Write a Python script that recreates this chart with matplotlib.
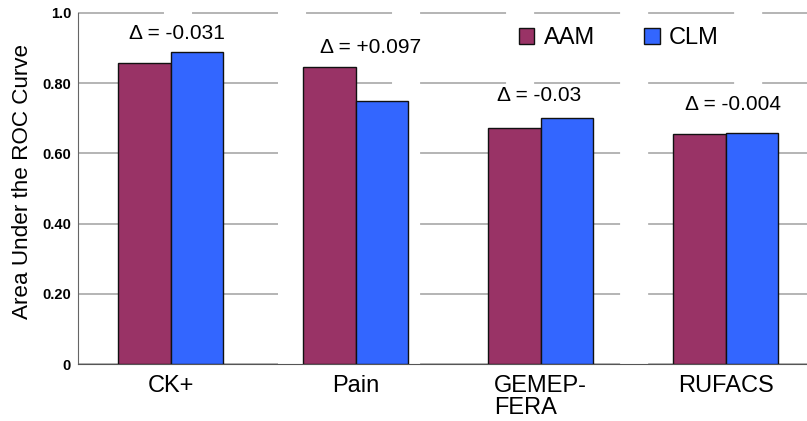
import numpy as np
import matplotlib
matplotlib.use('Agg')
import matplotlib.pyplot as plt

plt.rcParams['font.family'] = ['Liberation Sans', 'DejaVu Sans']
plt.rcParams['lines.scale_dashes'] = False

# data
datasets = ['CK+', 'Pain', 'GEMEP-\nFERA', 'RUFACS']
aam = [0.857, 0.847, 0.671, 0.655]
clm = [0.888, 0.750, 0.701, 0.659]
delta_labels = ['-0.031', '+0.097', '-0.03', '-0.004']
yticks = [0, 0.2, 0.4, 0.6, 0.8, 1.0]
ytick_labels = ['0', '0.20', '0.40', '0.60', '0.80', '1.0']

# annotation placement tweaks (layout only)
delta_dx = [0.035, 0.08, -0.01, 0.04]
delta_dy = [0.055, 0.056, 0.065, 0.081]

fig = plt.figure(figsize=(8.07, 4.21), dpi=100)
ax = fig.add_axes([78 / 807, 57 / 421, 740 / 807, 351 / 421])

x = np.arange(len(datasets))
w = 0.286
b1 = ax.bar(x - w / 2, aam, w, color='#993366', edgecolor='#111111', linewidth=1.0,
            label='AAM', zorder=3)
b2 = ax.bar(x + w / 2, clm, w, color='#3366ff', edgecolor='#111111', linewidth=1.0,
            label='CLM', zorder=3)

for i in range(len(datasets)):
    top = max(aam[i], clm[i])
    ax.text(x[i] + delta_dx[i], top + delta_dy[i], '\u0394 = ' + delta_labels[i],
            ha='center', va='center', fontsize=15, zorder=4)

ax.set_xlim(-0.5, 3.5)
ax.set_ylim(0, 1.0)
ax.set_yticks(yticks)
ax.set_yticklabels(ytick_labels, fontweight='bold', fontsize=10.5)
ax.set_xticks(x)
ax.set_xticklabels(datasets, fontsize=17, multialignment='left', linespacing=1.0)
ax.tick_params(axis='both', length=0)
ax.tick_params(axis='y', pad=5)
ax.tick_params(axis='x', pad=8)

ax.yaxis.grid(True, color='#a8a8a8', linewidth=1.2, linestyle=(0, (61.9, 20.2)), zorder=0)
for gl in ax.get_ygridlines():
    gl.set_clip_on(False)
ax.set_axisbelow(True)

for s in ['top', 'right']:
    ax.spines[s].set_visible(False)
ax.spines['left'].set_color('#666666')
ax.spines['bottom'].set_color('#555555')

ax.set_ylabel('Area Under the ROC Curve', fontsize=16.2)
ax.yaxis.set_label_coords(-0.061, 0.52)

fig.legend(handles=[b1, b2], loc='center', bbox_to_anchor=(619 / 807, 1 - 38 / 421),
           ncol=2, frameon=False, fontsize=17, handlelength=0.64, handleheight=0.64,
           handletextpad=0.4, columnspacing=2.1, borderpad=0)

fig.savefig('out.png', dpi=100)
